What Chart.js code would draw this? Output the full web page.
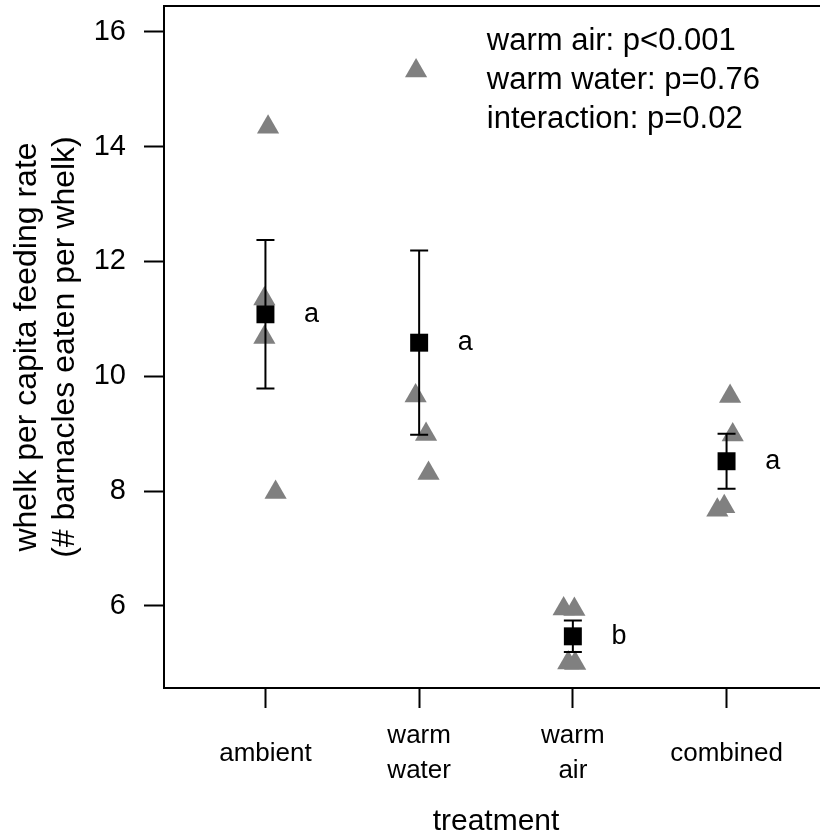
<!DOCTYPE html>
<html>
<head>
<meta charset="utf-8">
<script src="https://cdn.jsdelivr.net/npm/chart.js@4/dist/chart.umd.min.js"></script>
<style>
  html, body { margin: 0; padding: 0; background: #fff; overflow: hidden; }
  #wrap { width: 860px; height: 837px; }
</style>
</head>
<body>
<div id="wrap"><canvas id="chart" width="860" height="837"></canvas></div>
<script>
// Treatments (x categories, 1..4)
const treatments = ['ambient', 'warm\nwater', 'warm\nair', 'combined'];

// Individual replicates (grey triangles), x is jittered around the treatment position
const replicateX = [1.017, 0.993, 0.993, 1.066,
                    1.980, 1.977, 2.045, 2.061,
                    2.940, 3.010, 2.970, 3.015,
                    4.023, 4.040, 3.940, 3.985];
const replicateY = [14.34, 11.35, 10.68, 7.98,
                    15.32, 9.66, 8.99, 8.31,
                    5.95, 5.94, 5.01, 5.00,
                    9.65, 8.98, 7.67, 7.73];

// Treatment means and standard errors (black squares + error bars)
const means = [11.08, 10.585, 5.47, 8.52];
const stdErr = [1.295, 1.605, 0.275, 0.478];
const groupLetters = ['a', 'a', 'b', 'a'];

const yTicks = [6, 8, 10, 12, 14, 16];
const statsText = ['warm air: p<0.001', 'warm water: p=0.76', 'interaction: p=0.02'];

Chart.defaults.font.family = "'Liberation Sans', Arial, sans-serif";
Chart.defaults.color = '#000';

// error bars go on top of the triangles, under the squares
const errorBars = {
    id: 'errorBars',
    afterDatasetDraw(chart, args) {
        if (args.index !== 0) return;
        const {ctx, scales: {x, y}} = chart;
        ctx.save();
        ctx.strokeStyle = '#000';
        ctx.lineWidth = 2;
        means.forEach((m, i) => {
            const px = x.getPixelForValue(i + 1);
            const top = y.getPixelForValue(m + stdErr[i]);
            const bot = y.getPixelForValue(m - stdErr[i]);
            ctx.beginPath();
            ctx.moveTo(px, top); ctx.lineTo(px, bot);
            ctx.moveTo(px - 9, top); ctx.lineTo(px + 9, top);
            ctx.moveTo(px - 9, bot); ctx.lineTo(px + 9, bot);
            ctx.stroke();
        });
        ctx.restore();
    }
};

// box, group letters and the p-value text
const extras = {
    id: 'extras',
    afterDraw(chart) {
        const {ctx, chartArea: a, scales: {x, y}} = chart;
        ctx.save();
        ctx.strokeStyle = '#000';
        ctx.lineWidth = 2;
        ctx.strokeRect(a.left, a.top, a.right - a.left, a.bottom - a.top);

        ctx.fillStyle = '#000';
        ctx.font = "27px 'Liberation Sans', Arial, sans-serif";
        ctx.textAlign = 'center';
        ctx.textBaseline = 'middle';
        groupLetters.forEach((l, i) => {
            ctx.fillText(l, x.getPixelForValue(i + 1.3), y.getPixelForValue(means[i]));
        });

        ctx.font = "31px 'Liberation Sans', Arial, sans-serif";
        ctx.textAlign = 'left';
        ctx.textBaseline = 'alphabetic';
        const tx = x.getPixelForValue(2.44);
        const ty = y.getPixelForValue(15.68);
        statsText.forEach((t, i) => ctx.fillText(t, tx, ty + i * 39));
        ctx.restore();
    }
};

const axisGrid = {
    drawOnChartArea: false,
    drawTicks: true,
    tickLength: 20,
    tickWidth: 2,
    tickColor: '#000'
};

// keep the plot box where the reference has it, no extra room for edge labels
const noEdgePadding = s => {
    s.paddingTop = 0; s.paddingBottom = 0;
    s.paddingLeft = 0; s.paddingRight = 0;
};

new Chart(document.getElementById('chart'), {
    type: 'scatter',
    data: {
        datasets: [{
            label: 'replicates',
            data: replicateX.map((x, i) => ({x: x, y: replicateY[i]})),
            pointStyle: 'triangle',
            radius: 12.8,
            backgroundColor: '#808080',
            borderWidth: 0,
            order: 2
        }, {
            label: 'means',
            data: means.map((m, i) => ({x: i + 1, y: m})),
            pointStyle: 'rect',
            radius: 12.7,
            backgroundColor: '#000',
            borderWidth: 0,
            order: 1
        }]
    },
    options: {
        responsive: false,
        animation: false,
        events: [],
        layout: { autoPadding: false, padding: { top: 6, right: 32, left: 0, bottom: 0 } },
        plugins: { legend: { display: false }, tooltip: { enabled: false } },
        scales: {
            x: {
                type: 'linear',
                min: 0.34,
                max: 4.66,
                afterBuildTicks: s => { s.ticks = treatments.map((t, i) => ({value: i + 1})); },
                afterFit: s => { s.height = 149; noEdgePadding(s); },
                ticks: {
                    callback: v => treatments[v - 1].split('\n'),
                    font: { size: 26, lineHeight: 1.35 },
                    color: '#000',
                    padding: 28,
                    maxRotation: 0,
                    autoSkip: false,
                    crossAlign: 'center'
                },
                grid: axisGrid,
                border: { color: '#000', width: 2 },
                title: {
                    display: true,
                    text: 'treatment',
                    font: { size: 30, lineHeight: 1 },
                    color: '#000',
                    padding: 0
                }
            },
            y: {
                min: 4.57,
                max: 16.45,
                afterBuildTicks: s => { s.ticks = yTicks.map(v => ({value: v})); },
                afterFit: s => { s.width = 164; noEdgePadding(s); },
                ticks: {
                    font: { size: 29 },
                    color: '#000',
                    padding: 18
                },
                grid: axisGrid,
                border: { color: '#000', width: 2 },
                title: {
                    display: true,
                    text: ['whelk per capita feeding rate', '(# barnacles eaten per whelk)'],
                    font: { size: 32, lineHeight: 1.19 },
                    color: '#000',
                    padding: { top: 8, bottom: 0 }
                }
            }
        }
    },
    plugins: [errorBars, extras]
});
</script>
</body>
</html>
